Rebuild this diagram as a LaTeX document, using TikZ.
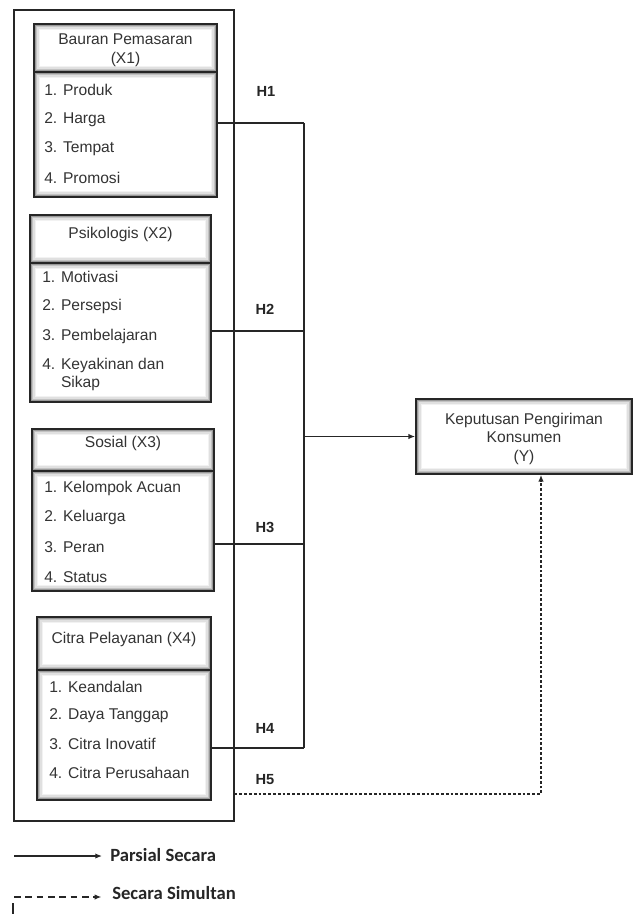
\documentclass[tikz,border=0pt]{standalone}
\usepackage{fontspec}
\setmainfont{Liberation Sans}
\newfontfamily\legendfont{Carlito}
\usetikzlibrary{positioning,fit,arrows.meta}

\tikzset{
  shadebox/.style={draw=black!85, line width=1.3pt, inner sep=0pt,
    path picture={
      \foreach \d/\g in {1.0/40, 2.0/24, 3.0/12, 4.0/5}
        \draw[black!\g, line width=1.1pt] ([shift={(\d pt,-\d pt)}]path picture bounding box.north west) rectangle ([shift={(-\d pt,\d pt)}]path picture bounding box.south east);
    }},
  title/.style={font=\fontsize{11.7}{13.9}\selectfont, text=black!80, align=center, inner sep=0pt},
  item/.style={font=\fontsize{11.7}{13}\selectfont, text=black!80, anchor=west, inner sep=0pt, align=left},
  hyp/.style={font=\fontsize{11}{13}\selectfont\bfseries, text=black!85, inner sep=0pt},
  link/.style={line width=0.9pt, draw=black!85},
  simul/.style={dash pattern=on 2pt off 1.6pt},
  simullegend/.style={dash pattern=on 5pt off 3.5pt},
  tip/.style={-{Latex[length=5pt,width=4pt]}},
  legend/.style={font=\legendfont\bfseries\fontsize{14}{16}\selectfont, text=black!85, anchor=west, inner sep=0pt}
}

\begin{document}
\begin{tikzpicture}[x=0.75pt, y=-0.75pt]
  \useasboundingbox (0,0) rectangle (637,914);

  % outer frame
  \node[fit={(14,10) (234,821)}, draw=black!85, line width=1pt, inner sep=0pt] (frame) {};

  % Bauran Pemasaran
  \node[shadebox, fit={(34,24) (217,72)}] (x1h) {};
  \node[shadebox, fit={(34,72) (217,197)}] (x1b) {};
  \node[title] (x1t) at (125.5,50) {Bauran Pemasaran\\(X1)};
  \foreach \t [count=\i] in {1. Produk, 2. Harga, 3. Tempat, 4. Promosi}
    \node[item] (x1i\i) at (44,{90+29.3*(\i-1)}) {\t};

  % Psikologis
  \node[shadebox, fit={(30,215) (211,263)}] (x2h) {};
  \node[shadebox, fit={(30,263) (211,402)}] (x2b) {};
  \node[title] (x2t) at (120.5,234) {Psikologis (X2)};
  \foreach \t [count=\i] in {1. Motivasi, 2. Persepsi, 3. Pembelajaran}
    \node[item] (x2i\i) at (42,{277+29.5*(\i-1)}) {\t};
  \node[item] (x2i4) at (42,374.5) {4. Keyakinan dan\\\phantom{4. }Sikap};

  % Sosial
  \node[shadebox, fit={(32,429) (214,471)}] (x3h) {};
  \node[shadebox, fit={(32,471) (214,591)}] (x3b) {};
  \node[title] (x3t) at (123,443) {Sosial (X3)};
  \foreach \t [count=\i] in {1. Kelompok Acuan, 2. Keluarga, 3. Peran, 4. Status}
    \node[item] (x3i\i) at (44,{488+29.7*(\i-1)}) {\t};

  % Citra Pelayanan
  \node[shadebox, fit={(37,617) (211,670)}] (x4h) {};
  \node[shadebox, fit={(37,670) (211,800)}] (x4b) {};
  \node[title] (x4t) at (124,639) {Citra Pelayanan (X4)};
  \foreach \t [count=\i] in {1. Keandalan, 2. Daya Tanggap, 3. Citra Inovatif, 4. Citra Perusahaan}
    \node[item] (x4i\i) at (49,{687+28.7*(\i-1)}) {\t};

  % Keputusan
  \node[shadebox, fit={(416,399) (632,474)}] (y) {};
  \node[title] (yt) at (524,438.5) {Keputusan Pengiriman\\Konsumen\\(Y)};

  % hypotheses
  \node[hyp] (h1) at (266,91) {H1};
  \node[hyp] (h2) at (265,309) {H2};
  \node[hyp] (h3) at (265,527) {H3};
  \node[hyp] (h4) at (265,728) {H4};
  \node[hyp] (h5) at (265,780) {H5};

  % partial paths
  \coordinate (j1) at (304,123);
  \coordinate (j2) at (304,331);
  \coordinate (j3) at (304,544);
  \coordinate (j4) at (304,748);
  \foreach \b/\j in {x1b/j1, x2b/j2, x3b/j3, x4b/j4}
    \draw[link] (\b.east |- \j) -- (\j);
  \draw[link] (j1) -- (j4);
  \draw[link, tip] (j1 |- y.west) -- (y.west);

  % simultaneous path
  \coordinate (d5) at (541,794);
  \draw[link, simul, tip] (frame.east |- d5) -- (d5) -- (d5 |- y.south);

  % legend
  \coordinate (l1) at (14,856);
  \node[legend] (lp) at (110,855) {Parsial Secara};
  \draw[link, tip, shorten >=6pt] (l1) -- (l1 -| lp.west);
  \coordinate (l2) at (14,897);
  \node[legend] (ls) at (112,893) {Secara Simultan};
  \draw[link, simullegend, tip, shorten >=8pt] (l2) -- (l2 -| ls.west);
  \draw[link] (13,903) -- (13,914);
\end{tikzpicture}
\end{document}
